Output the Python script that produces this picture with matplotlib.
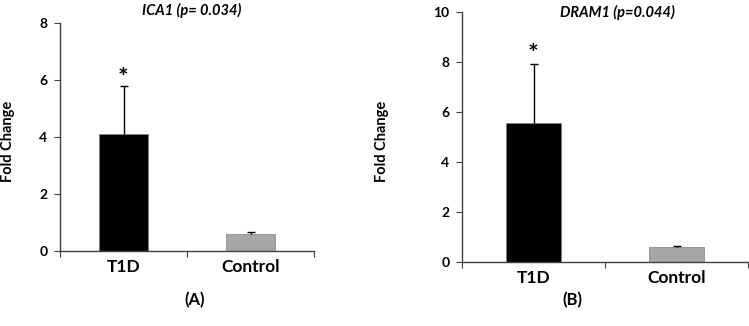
import matplotlib
matplotlib.use("Agg")
import matplotlib.pyplot as plt

plt.rcParams['font.family'] = ['Lato', 'DejaVu Sans']

groups = ["T1D", "Control"]
ica1_mean = [4.1, 0.6]
ica1_err = [1.68, 0.08]
dram1_mean = [5.57, 0.6]
dram1_err = [2.36, 0.05]
titles = ["ICA1 (p= 0.034)", "DRAM1 (p=0.044)"]
panel_tags = ["(A)", "(B)"]
ymax = [8, 10]
star_y = [6.05, 8.3]

bar_colors = ["#000000", "#a6a6a6"]
spine_col = "#404040"

fig = plt.figure(figsize=(7.49, 3.26), dpi=100)
ax1 = fig.add_axes([60 / 749, 1 - 251 / 326, 254 / 749, 228 / 326])
ax2 = fig.add_axes([462 / 749, 1 - 262 / 326, 286 / 749, 250 / 326])

data = [(ica1_mean, ica1_err), (dram1_mean, dram1_err)]
bar_w = [0.39, 0.39]

for i, ax in enumerate([ax1, ax2]):
    means, errs = data[i]
    x = [0, 1]
    tops = [m + e for m, e in zip(means, errs)]
    ax.bar(x, means, width=bar_w[i], color=bar_colors, edgecolor="#808080",
           linewidth=0.5, zorder=2)
    # one-sided (upper) error bars
    ax.vlines(x, means, tops, color="black", linewidth=1, zorder=3)
    ax.plot(x, tops, linestyle="none", marker="_", markersize=6,
            markeredgewidth=1, color="black", zorder=3)
    ax.text(0, star_y[i], "*", ha="center", va="center", fontsize=18,
            fontweight="bold")
    ax.set_xlim(-0.5, 1.5)
    ax.set_ylim(0, ymax[i])
    ax.set_yticks(range(0, ymax[i] + 1, 2))
    ax.set_xticks([-0.5, 0.5, 1.5])
    ax.set_xticklabels([])
    ax.tick_params(axis="x", direction="out", length=4, color=spine_col)
    ax.tick_params(axis="y", direction="out", length=4, color=spine_col,
                   labelsize=10, pad=5)
    for lab in ax.get_yticklabels():
        lab.set_fontweight("bold")
    for j, g in enumerate(groups):
        ax.annotate(g, (j, 0), xycoords=("data", "axes fraction"),
                    xytext=(0, -6), textcoords="offset points", ha="center",
                    va="top", fontsize=12.5, fontweight="bold")
    ax.spines["top"].set_visible(False)
    ax.spines["right"].set_visible(False)
    for s in ["left", "bottom"]:
        ax.spines[s].set_color(spine_col)
        ax.spines[s].set_linewidth(1)
    ax.patch.set_alpha(0)

fig.text(192 / 749, 1 - 10 / 326, titles[0], ha="center", va="center",
         fontsize=10.5, fontweight="bold", style="italic")
fig.text(617 / 749, 1 - 12 / 326, titles[1], ha="center", va="center",
         fontsize=10.5, fontweight="bold", style="italic")
fig.text(8 / 749, 1 - 141 / 326, "Fold Change", rotation=90, ha="center",
         va="center", fontsize=10.5, fontweight="bold")
fig.text(382 / 749, 1 - 141 / 326, "Fold Change", rotation=90, ha="center",
         va="center", fontsize=10.5, fontweight="bold")
fig.text(195 / 749, 1 - 300 / 326, panel_tags[0], ha="center", va="center",
         fontsize=12, fontweight="bold")
fig.text(572 / 749, 1 - 300 / 326, panel_tags[1], ha="center", va="center",
         fontsize=12, fontweight="bold")

fig.savefig("out.png", dpi=100)
